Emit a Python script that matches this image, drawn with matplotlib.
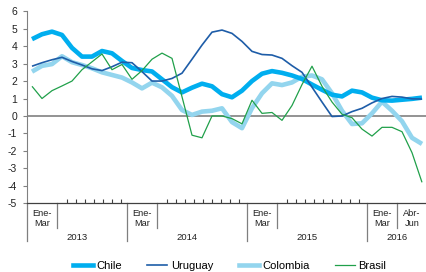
import numpy as np
import matplotlib
matplotlib.use("Agg")
import matplotlib.pyplot as plt
from matplotlib.lines import Line2D

plt.rcParams['font.family'] = ['Liberation Sans', 'DejaVu Sans']

# ---------------- data ----------------
years = ['2013', '2014', '2015', '2016']
points_per_year = [10, 12, 12, 6]
sub_labels = [['Ene-\nMar'], ['Ene-\nMar'], ['Ene-\nMar'], ['Ene-\nMar', 'Abr-\nJun']]

chile = [4.4, 4.68, 4.83, 4.64, 3.9, 3.4, 3.4, 3.72, 3.59, 3.15,
         2.75, 2.63, 2.55, 2.1, 1.65, 1.35, 1.62, 1.85, 1.7, 1.25, 1.07, 1.45,
         2.0, 2.42, 2.57, 2.47, 2.32, 2.12, 1.8, 1.5, 1.22, 1.12, 1.45, 1.35,
         1.05, 0.9, 0.88, 0.93, 0.98, 1.05]
uruguay = [2.85, 3.05, 3.22, 3.36, 3.12, 2.92, 2.7, 2.6, 2.82, 3.08,
           3.05, 2.54, 2.0, 2.0, 2.15, 2.45, 3.25, 4.06, 4.8, 4.92, 4.73, 4.27,
           3.7, 3.52, 3.49, 3.3, 2.88, 2.5, 1.65, 0.8, -0.03, 0.0, 0.25, 0.44,
           0.75, 1.0, 1.12, 1.08, 0.98, 0.97]
colombia = [2.54, 2.87, 2.97, 3.42, 3.08, 2.92, 2.73, 2.5, 2.35, 2.2,
            1.92, 1.58, 1.91, 1.64, 1.15, 0.34, 0.06, 0.25, 0.3, 0.44, -0.35, -0.7,
            0.45, 1.3, 1.87, 1.77, 1.92, 2.25, 2.32, 2.1, 1.3, 0.3, -0.46, -0.42,
            0.15, 0.82, 0.3, -0.3, -1.25, -1.6]
brasil = [1.7, 1.0, 1.45, 1.72, 2.0, 2.65, 3.1, 3.55, 2.65, 2.95,
          2.1, 2.6, 3.25, 3.6, 3.3, 1.1, -1.1, -1.25, 0.0, 0.0, -0.15, -0.45,
          0.9, 0.15, 0.2, -0.25, 0.6, 1.8, 2.85, 1.7, 0.8, 0.1, -0.1, -0.75,
          -1.15, -0.65, -0.65, -0.9, -2.1, -3.8]

series_names = ['Chile', 'Uruguay', 'Colombia', 'Brasil']
series_data = [chile, uruguay, colombia, brasil]
colors = ['#00AEEF', '#1E5DA8', '#93D5EE', '#20A04A']
widths = [3.3, 1.2, 3.3, 0.9]
zorders = [3, 5, 2, 6]

# ---------------- figure ----------------
W, H = 427, 272
fig = plt.figure(figsize=(W / 100, H / 100), dpi=100)
ax_left, ax_right, ax_top, ax_bot = 27, 427, 11.2, 203.3
ax = fig.add_axes([ax_left / W, 1 - ax_bot / H, (ax_right - ax_left) / W, (ax_bot - ax_top) / H])
ax_h = ax_bot - ax_top

n = len(chile)
x = np.arange(n) + 0.5
for name, d, c, lw, z in zip(series_names, series_data, colors, widths, zorders):
    ax.plot(x, d, color=c, lw=lw, zorder=z, solid_joinstyle='round', solid_capstyle='butt')

ax.axhline(0, color='#808080', lw=1.2, zorder=1)

ax.set_xlim(0, n)
ax.set_ylim(-5, 6)
ax.set_yticks(range(-5, 7))
ax.set_yticklabels([str(v) for v in range(-5, 7)])
ax.tick_params(axis='y', length=3, width=0.8, color='#808080', labelsize=7.5,
               labelcolor='#222222', pad=4)

for s in ['top', 'right']:
    ax.spines[s].set_visible(False)
ax.spines['left'].set_color('#808080')
ax.spines['left'].set_linewidth(0.8)
ax.spines['bottom'].set_color('#404040')
ax.spines['bottom'].set_linewidth(0.9)

# x axis: multi-level category labels
ax.set_xticks([])
bounds = np.concatenate([[0], np.cumsum(points_per_year)])
minor = []
trans = ax.get_xaxis_transform()
year_line_depth = -(241 - ax_bot) / ax_h
sub_line_depth = -(228 - ax_bot) / ax_h
year_text_y = -(238 - ax_bot) / ax_h
sub_text_y = -(218.5 - ax_bot) / ax_h

for yi, yr in enumerate(years):
    start, end = bounds[yi], bounds[yi + 1]
    ax.plot([start, start], [0, year_line_depth], transform=trans, color='#7f7f7f',
            lw=0.9, clip_on=False)
    ax.text((start + end) / 2, year_text_y, yr, transform=trans, ha='center',
            va='center', fontsize=6.8, color='#222222')
    pos = start
    for lab in sub_labels[yi]:
        ax.text(pos + 1.5, sub_text_y, lab, transform=trans, ha='center', va='center',
                fontsize=6.7, color='#222222', linespacing=1.15)
        pos += 3
        if pos < n:
            ax.plot([pos, pos], [0, sub_line_depth], transform=trans, color='#7f7f7f',
                    lw=0.9, clip_on=False)
    if pos < end:
        minor.extend(np.arange(pos + 1.0, end - 0.3, 0.9))

ax.set_xticks(minor, minor=True)
ax.tick_params(axis='x', which='minor', direction='in', length=3, width=0.8,
               color='#404040', labelbottom=False)

# legend
handles = [Line2D([], [], color=c, lw=lw) for c, lw in zip(colors, widths)]
fig.legend(handles, series_names, loc='center', bbox_to_anchor=(229.5 / W, 1 - 266 / H),
           ncol=4, frameon=False, fontsize=8, handlelength=1.8, handletextpad=0.3,
           columnspacing=2.3, borderpad=0, borderaxespad=0)

fig.savefig('out.png', dpi=100)
